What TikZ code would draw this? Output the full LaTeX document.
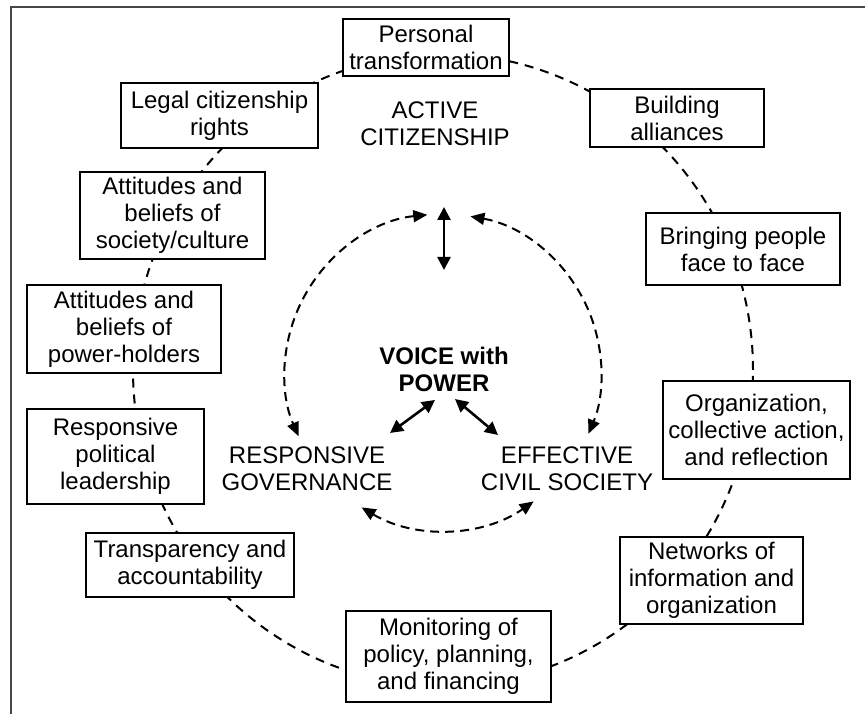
\documentclass[tikz,border=0pt]{standalone}
\usepackage{fontspec}
\setmainfont{Liberation Sans}
\usetikzlibrary{arrows.meta}
\begin{document}
\begin{tikzpicture}[x=1pt,y=1pt,
  every node/.style={font=\fontsize{24}{27}\selectfont, align=center, inner sep=0pt},
  boxnode/.style n args={2}{draw, fill=white, line width=1.5pt, minimum width=#1, minimum height=#2},
  ringdash/.style={line width=2pt, dash pattern=on 9pt off 7pt},
  innerdash/.style={line width=2pt, dash pattern=on 9pt off 6pt, {Triangle[length=14pt,width=12pt]}-{Triangle[length=14pt,width=12pt]}},
  solidarrow/.style={line width=2.6pt, {Triangle[length=13pt,width=13pt]}-{Triangle[length=13pt,width=13pt]}},
  frameline/.style={line width=2pt, draw=black!72}]
\useasboundingbox (0,0) rectangle (865,714);
% frame (left and top only)
\draw[frameline] (11,0) -- (11,707) -- (865,707);
% outer dashed ring
\draw[ringdash] (443,344) ellipse [x radius=310pt, y radius=316pt];
% boxes on the ring
\node[boxnode={166pt}{57pt}] (pt) at (426,666.5) {Personal\\transformation};
\node[boxnode={197pt}{65pt}] (lc) at (219.5,598.5) {Legal citizenship\\rights};
\node[boxnode={174pt}{58pt}] (ba) at (677,596) {Building\\alliances};
\node[boxnode={185pt}{87pt}] (as) at (172.5,498.5) {Attitudes and\\beliefs of\\society/culture};
\node[boxnode={194pt}{88pt}] (ap) at (124,385) {Attitudes and\\beliefs of\\power-holders};
\node[boxnode={177pt}{95pt}] (rp) at (115.5,257.5) {Responsive\\political\\leadership};
\node[boxnode={208pt}{64pt}] (ta) at (190,149) {Transparency and\\accountability};
\node[boxnode={205pt}{91pt}] (mo) at (448.5,57.5) {Monitoring of\\policy, planning,\\and financing};
\node[boxnode={183pt}{87pt}] (nw) at (711.5,133.5) {Networks of\\information and\\organization};
\node[boxnode={187pt}{98pt}] (or) at (756.5,284) {Organization,\\collective action,\\and reflection};
\node[boxnode={194pt}{72pt}] (bp) at (743,465) {Bringing people\\face to face};
% central labels
\node (ac) at (435,590.5) {ACTIVE\\CITIZENSHIP};
\node[font=\fontsize{24}{27}\selectfont\bfseries] (vp) at (444,345) {VOICE with\\POWER};
\node (rg) at (307,245.5) {RESPONSIVE\\GOVERNANCE};
\node (ec) at (567,245.5) {EFFECTIVE\\CIVIL SOCIETY};
% inner ring
\coordinate (c) at (443,342);
\draw[innerdash] (c) ++(95.7:158pt) arc (95.7:204:158pt);
\draw[innerdash] (c) ++(80:158pt) arc (80:-23:158pt);
\draw[innerdash] (c) ++(239:158pt) arc (239:305:158pt);
% solid arrows
\coordinate (v1) at (444,507);
\coordinate (v2) at (444,444);
\draw[solidarrow] (v1) -- (v2);
\coordinate (l1) at (435,314);
\coordinate (l2) at (390,281);
\draw[solidarrow] (l1) -- (l2);
\coordinate (r1) at (455,315);
\coordinate (r2) at (498,279);
\draw[solidarrow] (r1) -- (r2);
\end{tikzpicture}
\end{document}
